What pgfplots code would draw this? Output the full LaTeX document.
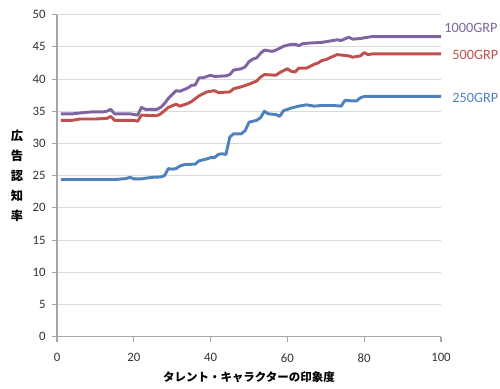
\documentclass[border=0pt]{standalone}
\usepackage{fontspec}
\usepackage{pgfplots}
\pgfplotsset{compat=1.18}
\setmainfont{Carlito}
\newfontfamily\cjk{Noto Sans CJK JP}
\definecolor{c1000}{RGB}{128,100,162}
\definecolor{c500}{RGB}{192,80,77}
\definecolor{c250}{RGB}{79,129,189}
\begin{document}
\begin{tikzpicture}
\useasboundingbox (-42.75pt,-39pt) rectangle (332.25pt,252.5pt);
\begin{axis}[
  scale only axis, width=288pt, height=241.5pt,
  at={(0,0)}, anchor=south west,
  xmin=0, xmax=100, ymin=0, ymax=50,
  xtick={0,20,...,100}, ytick={0,5,...,50},
  axis lines*=left,
  ymajorgrids, grid style={draw=gray!30, line width=0.8pt},
  axis line style={draw=gray!70, line width=0.8pt},
  tick style={draw=gray!70, line width=0.8pt},
  tick align=outside, major tick length=4pt,
  tick label style={font=\fontsize{9.6}{11}\selectfont, text=black!80},
  xticklabel style={yshift=-5pt},
  yticklabel style={xshift=-1pt},
  /pgf/number format/assume math mode=true,
  clip=false,
  xlabel={タレント・キャラクターの印象度},
  xlabel style={font=\cjk\bfseries\fontsize{8.6}{10}\selectfont, at={(axis description cs:0.5,-0.125)}, anchor=center},
  ylabel={広\\告\\認\\知\\率},
  ylabel style={font=\cjk\bfseries\fontsize{9.2}{15}\selectfont, align=center, rotate=-90, at={(axis description cs:-0.104,0.5)}, anchor=center},
  every axis plot/.append style={line width=2.2pt, line join=round, mark=none},
]
\addplot[c250] coordinates {
(1,24.4) (5,24.4) (10,24.4) (15,24.4) (17,24.5) (18,24.55) (19,24.75) (20,24.5) (22,24.5) (23,24.6) (25,24.75) (27,24.8) (28,25.0) (29,26.1) (30,26.0) (31,26.1) (32,26.5) (33,26.7) (36,26.8) (37,27.3) (39,27.6) (40,27.8) (41,27.8) (42,28.3) (43,28.4) (44,28.3) (45,31.0) (46,31.5) (48,31.5) (49,32.0) (50,33.3) (52,33.6) (53,34.0) (54,35.0) (55,34.6) (57,34.5) (58,34.2) (59,35.1) (61,35.5) (63,35.8) (65,36.0) (67,35.8) (69,35.9) (72,35.9) (74,35.8) (75,36.7) (77,36.6) (78,36.6) (79,37.1) (80,37.3) (82,37.3) (100,37.3)
};
\addplot[c500] coordinates {
(1,33.6) (4,33.6) (6,33.8) (10,33.8) (13,33.9) (14,34.2) (15,33.6) (18,33.6) (20,33.6) (21,33.45) (22,34.4) (26,34.3) (27,34.6) (28,35.1) (29,35.6) (31,36.1) (32,35.8) (34,36.2) (35,36.5) (37,37.4) (39,38.0) (41,38.2) (42,37.9) (45,38.0) (46,38.5) (48,38.8) (50,39.2) (52,39.7) (53,40.3) (54,40.7) (57,40.6) (58,41.0) (60,41.6) (61,41.2) (62,41.1) (63,41.7) (65,41.7) (67,42.3) (68,42.5) (69,42.9) (70,43.0) (71,43.3) (73,43.8) (76,43.6) (77,43.4) (79,43.6) (80,44.1) (81,43.8) (82,43.9) (100,43.9)
};
\addplot[c1000] coordinates {
(1,34.6) (4,34.6) (7,34.8) (9,34.9) (12,34.9) (13,35.0) (14,35.3) (15,34.6) (19,34.6) (20,34.5) (21,34.4) (22,35.6) (23,35.3) (26,35.3) (27,35.6) (28,36.2) (29,37.0) (31,38.2) (32,38.1) (34,38.6) (35,39.0) (36,39.1) (37,40.2) (38,40.2) (40,40.6) (41,40.4) (44,40.5) (45,40.7) (46,41.4) (48,41.6) (49,41.9) (50,42.7) (51,43.1) (52,43.3) (53,44.0) (54,44.5) (56,44.3) (57,44.5) (59,45.1) (61,45.4) (62,45.4) (63,45.2) (64,45.5) (66,45.6) (69,45.7) (71,45.9) (73,46.1) (74,46.0) (76,46.5) (77,46.2) (79,46.3) (80,46.4) (82,46.6) (100,46.6)
};
\node[anchor=west, inner sep=0pt, text=c1000, font=\fontsize{10.7}{12}\selectfont] at (axis cs:100.8,47.9) {1000GRP};
\node[anchor=west, inner sep=0pt, text=c500, font=\fontsize{10.7}{12}\selectfont] at (axis cs:102.9,43.7) {500GRP};
\node[anchor=west, inner sep=0pt, text=c250, font=\fontsize{10.7}{12}\selectfont] at (axis cs:102.9,37.1) {250GRP};
\end{axis}
\end{tikzpicture}
\end{document}
